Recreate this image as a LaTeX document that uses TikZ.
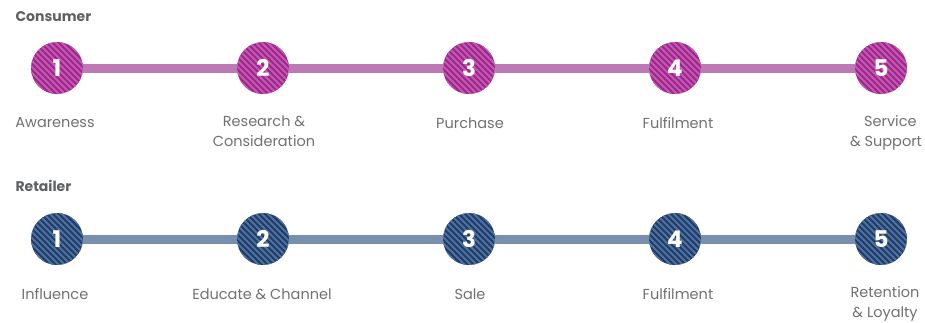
\documentclass[tikz,border=0pt]{standalone}
\usepackage{fontspec}
\setmainfont{Poppins}
\definecolor{labelgrey}{HTML}{6E7072}
\definecolor{titlegrey}{HTML}{5E6163}
\definecolor{conbase}{HTML}{A0258C}
\definecolor{constripe}{HTML}{C35AB1}
\definecolor{conline}{HTML}{BD79B4}
\definecolor{retbase}{HTML}{1E3D6C}
\definecolor{retstripe}{HTML}{52729E}
\definecolor{retline}{HTML}{7890AE}
\tikzset{
  stage/.style={circle, minimum size=52pt, inner sep=0pt, fill=#1base, text=white,
    font=\bfseries\fontsize{23}{23}\selectfont,
    path picture={
      \foreach \d in {-72,-66,...,72}
        \draw[#1stripe, line width=2pt]
          ([shift={(\d-40,-40)}]path picture bounding box.center) -- ++(80,80);
    }},
  track/.style={line width=9pt, #1line},
  rowtitle/.style={anchor=west, text=titlegrey, font=\bfseries\fontsize{14}{14}\selectfont},
  steplabel/.style={text=labelgrey, align=center, font=\fontsize{14.5}{20}\selectfont}
}
\begin{document}
\begin{tikzpicture}[x=1pt,y=-1pt]
\useasboundingbox (0,0) rectangle (925,322);

% Consumer journey
\node[rowtitle] (tcon) at (12,17) {Consumer};
\foreach \i/\x in {1/57,2/263,3/469,4/675,5/881}
  \node[stage=con] (c\i) at (\x,68) {\i};
\foreach \a/\b in {1/2,2/3,3/4,4/5}
  \draw[track=con] (c\a) -- (c\b);
\node[steplabel] (lc1) at (55,123) {Awareness};
\node[steplabel, anchor=north] (lc2) at (264,112) {Research \&\\Consideration};
\node[steplabel] (lc3) at (470,123) {Purchase};
\node[steplabel] (lc4) at (678,123) {Fulfilment};
\node[steplabel, anchor=north] (lc5) at (886,112) {\hspace*{0.6em}Service\\\& Support};

% Retailer journey
\node[rowtitle] (tret) at (12,186) {Retailer};
\foreach \i/\x in {1/57,2/263,3/469,4/675,5/881}
  \node[stage=ret] (r\i) at (\x,239) {\i};
\foreach \a/\b in {1/2,2/3,3/4,4/5}
  \draw[track=ret] (r\a) -- (r\b);
\node[steplabel] (lr1) at (55,294) {Influence};
\node[steplabel] (lr2) at (262,294) {Educate \& Channel};
\node[steplabel] (lr3) at (470,294) {Sale};
\node[steplabel] (lr4) at (678,294) {Fulfilment};
\node[steplabel, anchor=north] (lr5) at (885,283) {Retention\\\& Loyalty};
\end{tikzpicture}
\end{document}
